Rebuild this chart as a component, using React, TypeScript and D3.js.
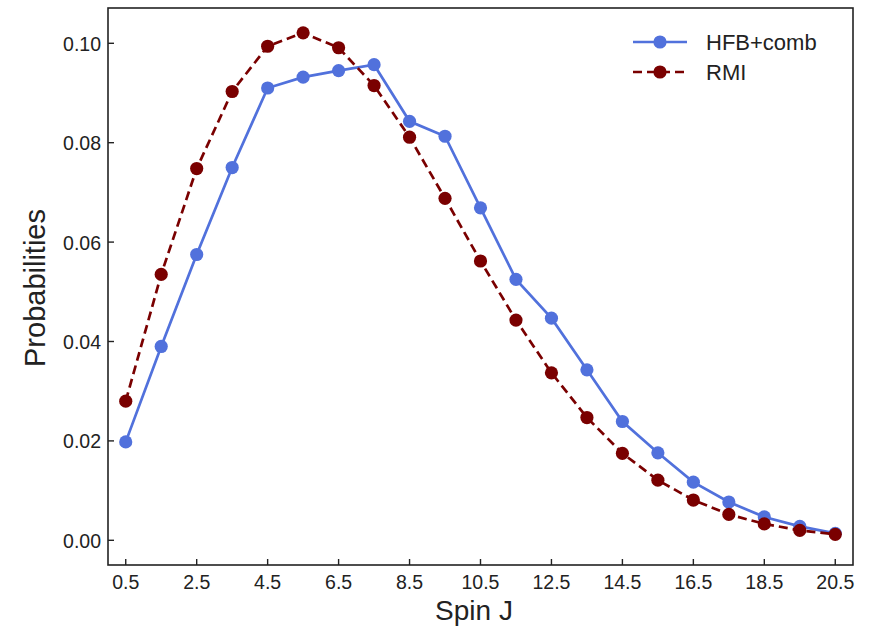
import React from "react";
import * as d3 from "d3";

const spins = [0.5, 1.5, 2.5, 3.5, 4.5, 5.5, 6.5, 7.5, 8.5, 9.5, 10.5, 11.5, 12.5, 13.5, 14.5, 15.5, 16.5, 17.5, 18.5, 19.5, 20.5];
const hfbComb = [0.0198, 0.039, 0.0575, 0.075, 0.091, 0.0932, 0.0945, 0.0957, 0.0843, 0.0813, 0.0669, 0.0525, 0.0447, 0.0343, 0.0239, 0.0176, 0.0117, 0.0077, 0.0047, 0.0028, 0.0014];
const rmi = [0.028, 0.0535, 0.0748, 0.0903, 0.0994, 0.1021, 0.0991, 0.0915, 0.0811, 0.0688, 0.0562, 0.0443, 0.0337, 0.0247, 0.0175, 0.0121, 0.0081, 0.0052, 0.0033, 0.002, 0.0012];
const xTicks = [0.5, 2.5, 4.5, 6.5, 8.5, 10.5, 12.5, 14.5, 16.5, 18.5, 20.5];
const yTicks = [0, 0.02, 0.04, 0.06, 0.08, 0.1];

const W = 874, H = 631;
const L = 108, R = 853, T = 8, B = 565;
const FONT = "'Liberation Sans', Arial, sans-serif";

export default function App() {
  const x = d3.scaleLinear().domain([0, 21]).range([L, R]);
  const y = d3.scaleLinear().domain([-0.00497, 0.1071]).range([B, T]);
  const line = d3.line<number>().x((_, i) => x(spins[i])).y((d) => y(d));
  const series = [
    { name: "HFB+comb", data: hfbComb, color: "#5171dc", dash: undefined as string | undefined },
    { name: "RMI", data: rmi, color: "#7a0000", dash: "9,5" },
  ];
  return (
    <div style={{ position: "absolute", left: 0, top: 0 }}>
      <svg width={W} height={H} style={{ display: "block", background: "#fff" }}>
        <rect x={0} y={0} width={W} height={H} fill="#fff" />
        {series.map((s) => (
          <g key={s.name}>
            <path d={line(s.data) || ""} fill="none" stroke={s.color} strokeWidth={2.7} strokeDasharray={s.dash} />
            {s.data.map((d, i) => (
              <circle key={i} cx={x(spins[i])} cy={y(d)} r={6.6} fill={s.color} />
            ))}
          </g>
        ))}
        <rect x={L} y={T} width={R - L} height={B - T} fill="none" stroke="#222" strokeWidth={1.6} />
        {xTicks.map((t) => (
          <g key={t}>
            <line x1={x(t)} x2={x(t)} y1={B} y2={B - 6} stroke="#222" strokeWidth={1.4} />
            <text x={x(t)} y={B + 24} textAnchor="middle" fontSize={19.5} fontFamily={FONT} fill="#222">
              {t.toFixed(1)}
            </text>
          </g>
        ))}
        {yTicks.map((t) => (
          <g key={t}>
            <line x1={L} x2={L + 6} y1={y(t)} y2={y(t)} stroke="#222" strokeWidth={1.4} />
            <text x={L - 7} y={y(t) + 7.5} textAnchor="end" fontSize={19.5} fontFamily={FONT} fill="#222">
              {t.toFixed(2)}
            </text>
          </g>
        ))}
        <text x={474} y={620} textAnchor="middle" fontSize={28} fontFamily={FONT} fill="#222">
          Spin J
        </text>
        <text transform={`translate(45,288) rotate(-90)`} textAnchor="middle" fontSize={29} fontFamily={FONT} fill="#222">
          Probabilities
        </text>
        {series.map((s, i) => {
          const ly = 42 + i * 30;
          return (
            <g key={s.name}>
              <line x1={633} x2={687} y1={ly} y2={ly} stroke={s.color} strokeWidth={2.7} strokeDasharray={s.dash ? "9,5" : undefined} />
              <circle cx={660} cy={ly} r={6.6} fill={s.color} />
              <text x={706} y={ly + 8} fontSize={22} fontFamily={FONT} fill="#222">
                {s.name}
              </text>
            </g>
          );
        })}
      </svg>
    </div>
  );
}
